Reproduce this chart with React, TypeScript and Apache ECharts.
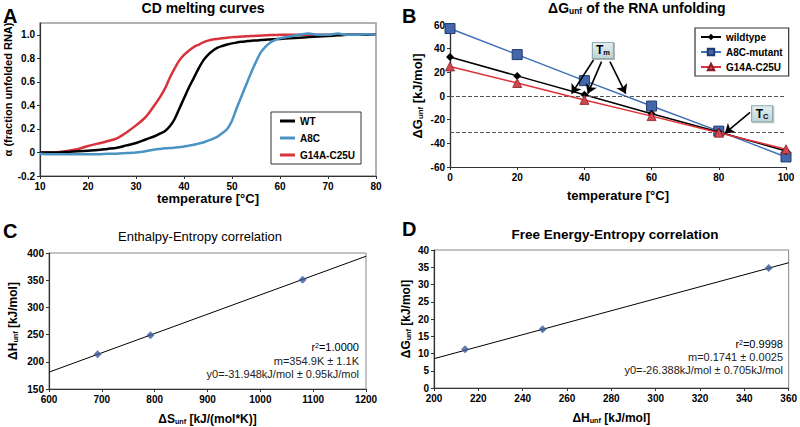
import React, { useEffect, useRef } from 'react';
import * as echarts from 'echarts';

// ---------- Panel A: CD melting curves ----------
const meltT = [10, 12, 14, 16, 18, 20, 22, 24, 26, 28, 30, 32, 34, 35, 36, 37, 38, 39, 40, 41, 42, 43, 44, 45, 46, 47, 48, 49, 50, 51, 52, 53, 54, 55, 56, 57, 58, 59, 60, 62, 64, 66, 68, 70, 72, 74, 76, 78, 80];
const meltWT = [0, 0, 0, 0.005, 0.01, 0.015, 0.02, 0.03, 0.04, 0.06, 0.08, 0.11, 0.14, 0.16, 0.18, 0.22, 0.28, 0.37, 0.46, 0.55, 0.63, 0.71, 0.78, 0.83, 0.865, 0.89, 0.905, 0.917, 0.927, 0.934, 0.94, 0.945, 0.95, 0.952, 0.955, 0.958, 0.96, 0.963, 0.965, 0.97, 0.975, 0.98, 0.985, 0.99, 0.995, 1.0, 1.0, 1.0, 1.0];
const meltA8C = [-0.01, -0.015, -0.015, -0.015, -0.015, -0.015, -0.015, -0.012, -0.01, -0.005, 0, 0.01, 0.025, 0.03, 0.035, 0.038, 0.04, 0.045, 0.05, 0.058, 0.065, 0.075, 0.085, 0.1, 0.115, 0.135, 0.165, 0.2, 0.27, 0.38, 0.48, 0.58, 0.68, 0.77, 0.85, 0.9, 0.935, 0.955, 0.97, 0.985, 1.0, 1.01, 1.0, 1.0, 1.01, 1.0, 1.0, 1.005, 1.0];
const meltG14A = [0, 0, 0.005, 0.015, 0.03, 0.055, 0.075, 0.095, 0.12, 0.17, 0.23, 0.3, 0.41, 0.47, 0.54, 0.63, 0.71, 0.78, 0.83, 0.865, 0.895, 0.915, 0.935, 0.95, 0.96, 0.965, 0.97, 0.975, 0.98, 0.982, 0.985, 0.987, 0.99, 0.991, 0.993, 0.995, 0.997, 0.998, 1.0, 1.0, 1.0, 1.0, 1.0, 1.0, 1.0, 1.0, 1.0, 1.0, 1.0];

// ---------- Panel B: dG of unfolding ----------
const bTemps = [0, 20, 40, 60, 80, 100];
const bWild = [33, 17, 1, -15, -30.5, -46.5];
const bA8C = [57, 35, 13, -8.5, -29.7, -51.5];
const bG14A = [25, 11, -3.3, -17, -31, -45];
const bRefLines = [0, -31];
const tmTips = [36.2, 41, 52.3];
const tmStarts = [[42.7, 30.4], [45.1, 29], [47.6, 29]];
const tcArrow = [[89.3, -13.8], [81.8, -31.5]];
const tmBox = [45.5, 38.5];
const tcBox = [92.9, -15];

// ---------- Panel C: enthalpy-entropy ----------
const cS = [692, 792, 1080];
const cH = [214, 249, 351];
const cFitS = [600, 1200];
const cFitH = [181, 394];

// ---------- Panel D: free energy-entropy ----------
const dH = [214, 249, 351];
const dG = [11.2, 17, 34.8];
const dFitH = [200, 360];
const dFitG = [8.5, 36.3];

const F = "'Liberation Sans', Arial, sans-serif";

const zip = (a: number[], b: number[]) => a.map((v, i) => [v, b[i]]);

const axisBase = (extra: any) => ({
  type: 'value',
  splitLine: { show: false },
  axisLine: { show: true, onZero: false, lineStyle: { color: '#333', width: 1.2 } },
  axisTick: { show: true, length: 3, lineStyle: { color: '#333' } },
  axisLabel: { color: '#000', fontFamily: F, fontWeight: 'bold', fontSize: 10, margin: 5, formatter: (v: number) => String(v) },
  nameLocation: 'middle',
  nameTextStyle: { color: '#000', fontFamily: F, fontWeight: 'bold', fontSize: 13 },
  ...extra,
});

const subRich = (size: number) => ({
  b: { fontFamily: F, fontWeight: 'bold', fontSize: size, color: '#000' },
  s: { fontFamily: F, fontWeight: 'bold', fontSize: size * 0.6, color: '#000', verticalAlign: 'bottom', padding: [size * 0.35, 0, 0, 0] },
});

const AF = 11;
const annRich = {
  n: { fontFamily: F, fontSize: AF, color: '#222' },
  p: { fontFamily: F, fontSize: 7, color: '#222', verticalAlign: 'top' },
};

export default function App() {
  const ref = useRef<HTMLDivElement>(null);
  useEffect(() => {
    document.body.style.margin = '0';
    const chart = echarts.init(ref.current!, null, { renderer: 'svg' });
    const boxGrad = new echarts.graphic.LinearGradient(0, 0, 0, 1, [
      { offset: 0, color: '#e4f0f2' },
      { offset: 1, color: '#bcd4d8' },
    ]);
    const option: any = {
      animation: false,
      backgroundColor: '#fff',
      grid: [
        { left: 40, top: 23, width: 336, height: 153, show: true, borderColor: '#999', borderWidth: 1.5 },
        { left: 450, top: 25, width: 336, height: 142 },
        { left: 49, top: 253, width: 317, height: 136, show: true, borderColor: '#888', borderWidth: 1 },
        { left: 434, top: 250, width: 356, height: 138, show: true, borderColor: '#888', borderWidth: 1 },
      ],
      xAxis: [
        axisBase({ gridIndex: 0, min: 10, max: 80, interval: 10, name: 'temperature [°C]', nameGap: 12 }),
        axisBase({ gridIndex: 1, min: 0, max: 100, interval: 20, name: 'temperature [°C]', nameGap: 22 }),
        axisBase({
          gridIndex: 2, min: 600, max: 1200, interval: 100, nameGap: 24,
          name: '{b|ΔS}{s|unf}{b| [kJ/(mol*K)]}',
          nameTextStyle: { rich: subRich(12) },
        }),
        axisBase({
          gridIndex: 3, min: 200, max: 360, interval: 20, nameGap: 24,
          name: '{b|ΔH}{s|unf}{b| [kJ/mol]}',
          nameTextStyle: { rich: subRich(12) },
        }),
      ],
      yAxis: [
        axisBase({
          gridIndex: 0, min: -0.2, max: 1.1, interval: 0.2, name: 'α (fraction unfolded RNA)', nameGap: 24,
          nameTextStyle: { color: '#000', fontFamily: F, fontWeight: 'bold', fontSize: 11, padding: [0, 0, 0, 20] },
          axisLabel: {
            color: '#000', fontFamily: F, fontWeight: 'bold', fontSize: 10, margin: 5, showMaxLabel: false,
            formatter: (v: number) => (Math.abs(v) < 1e-9 ? '0' : v.toFixed(1)),
          },
        }),
        axisBase({
          gridIndex: 1, min: -60, max: 60, interval: 20, nameGap: 26,
          name: '{b|ΔG}{s|unf}{b| [kJ/mol]}',
          nameTextStyle: { rich: subRich(13) },
        }),
        axisBase({
          gridIndex: 2, min: 150, max: 400, interval: 50, nameGap: 30,
          name: '{b|ΔH}{s|unf}{b| [kJ/mol]}',
          nameTextStyle: { rich: subRich(12) },
        }),
        axisBase({
          gridIndex: 3, min: 0, max: 40, interval: 5, nameGap: 22,
          name: '{b|ΔG}{s|unf}{b| [kJ/mol]}',
          nameTextStyle: { rich: subRich(12) },
        }),
        {
          type: 'value', gridIndex: 1, position: 'right', min: -60, max: 60,
          axisLine: { show: true, lineStyle: { color: '#333', width: 1.2 } },
          axisTick: { show: false }, axisLabel: { show: false }, splitLine: { show: false },
        },
      ],
      legend: [
        {
          data: ['WT', 'A8C', 'G14A-C25U'],
          left: 271, top: 112, orient: 'vertical', icon: 'rect',
          borderColor: '#333', borderWidth: 1, padding: [3, 6, 3, 9], itemGap: 5,
          itemWidth: 15, itemHeight: 3,
          textStyle: { fontFamily: F, fontWeight: 'bold', fontSize: 10, color: '#000', lineHeight: 12 },
        },
        {
          data: ['wildtype', 'A8C-mutant', 'G14A-C25U (B)'],
          left: 695, top: 28, orient: 'vertical',
          borderColor: '#333', borderWidth: 1.2, padding: [4, 6, 4, 5], itemGap: 5,
          itemWidth: 20, itemHeight: 8,
          formatter: (n: string) => n.replace(' (B)', ''),
          textStyle: { fontFamily: F, fontWeight: 'bold', fontSize: 10, color: '#000' },
        },
      ],
      series: [
        { name: 'WT', type: 'line', xAxisIndex: 0, yAxisIndex: 0, data: zip(meltT, meltWT), smooth: 0.3, symbol: 'none', lineStyle: { color: '#000', width: 2.5 }, itemStyle: { color: '#000' }, z: 4 },
        { name: 'A8C', type: 'line', xAxisIndex: 0, yAxisIndex: 0, data: zip(meltT, meltA8C), smooth: 0.3, symbol: 'none', lineStyle: { color: '#4a94c4', width: 2.5 }, itemStyle: { color: '#4a94c4' }, z: 5 },
        { name: 'G14A-C25U', type: 'line', xAxisIndex: 0, yAxisIndex: 0, data: zip(meltT, meltG14A), smooth: 0.3, symbol: 'none', lineStyle: { color: '#d8333c', width: 2.5 }, itemStyle: { color: '#d8333c' }, z: 3 },

        {
          name: 'wildtype', type: 'line', xAxisIndex: 1, yAxisIndex: 1, data: zip(bTemps, bWild),
          symbol: 'diamond', symbolSize: 8, lineStyle: { color: '#000', width: 1.5 }, itemStyle: { color: '#000' }, z: 4,
          markLine: {
            silent: true, symbol: 'none', label: { show: false },
            lineStyle: { color: '#555', type: [4, 2], width: 1 },
            data: bRefLines.map((v) => ({ yAxis: v })),
          },
        },
        {
          name: 'A8C-mutant', type: 'line', xAxisIndex: 1, yAxisIndex: 1, data: zip(bTemps, bA8C),
          symbol: 'rect', symbolSize: 10, lineStyle: { color: '#3f6fb5', width: 1.5 },
          itemStyle: { color: '#4466aa', borderColor: '#1f3a70', borderWidth: 1 }, z: 3,
          markLine: {
            silent: true, symbol: ['none', 'arrow'], symbolSize: 9, label: { show: false },
            lineStyle: { color: '#000', type: 'solid', width: 1.6 },
            data: [
              ...tmTips.map((t, i) => [{ coord: tmStarts[i] }, { coord: [t, 2] }]),
              [{ coord: tcArrow[0] }, { coord: tcArrow[1] }],
            ],
          },
          markPoint: {
            silent: true,
            symbol: 'rect',
            itemStyle: { color: boxGrad, borderColor: '#8fa9ad', borderWidth: 1, shadowColor: 'rgba(0,0,0,0.3)', shadowOffsetX: 1, shadowOffsetY: 1, shadowBlur: 1 },
            label: {
              show: true, position: 'inside',
              rich: {
                t: { fontFamily: F, fontWeight: 'bold', fontSize: 12, color: '#000' },
                s: { fontFamily: F, fontWeight: 'bold', fontSize: 7.5, color: '#000', verticalAlign: 'bottom', padding: [5, 0, 0, 0] },
              },
            },
            data: [
              { coord: tmBox, symbolSize: [21, 16], label: { formatter: '{t|T}{s|m}' } },
              { coord: tcBox, symbolSize: [21, 16], label: { formatter: '{t|T}{s|C}' } },
            ],
          },
        },
        {
          name: 'G14A-C25U (B)', type: 'line', xAxisIndex: 1, yAxisIndex: 1, data: zip(bTemps, bG14A),
          symbol: 'triangle', symbolSize: 9, lineStyle: { color: '#e0303a', width: 1.5 },
          itemStyle: { color: '#d24850', borderColor: '#8a1c24', borderWidth: 0.8 }, z: 5,
        },

        { type: 'line', xAxisIndex: 2, yAxisIndex: 2, data: zip(cFitS, cFitH), symbol: 'none', lineStyle: { color: '#000', width: 1 }, z: 2 },
        { type: 'scatter', xAxisIndex: 2, yAxisIndex: 2, data: zip(cS, cH), symbol: 'diamond', symbolSize: 8, itemStyle: { color: '#3a5a9c' }, z: 3 },

        { type: 'line', xAxisIndex: 3, yAxisIndex: 3, data: zip(dFitH, dFitG), symbol: 'none', lineStyle: { color: '#000', width: 1 }, z: 2 },
        { type: 'scatter', xAxisIndex: 3, yAxisIndex: 3, data: zip(dH, dG), symbol: 'diamond', symbolSize: 8, itemStyle: { color: '#3a5a9c' }, z: 3 },
      ],
      graphic: [
        // panel letters
        { type: 'text', x: 3, y: 16, style: { text: 'A', font: `bold 20px ${F}`, fill: '#000', textVerticalAlign: 'middle' } },
        { type: 'text', x: 402, y: 16, style: { text: 'B', font: `bold 20px ${F}`, fill: '#000', textVerticalAlign: 'middle' } },
        { type: 'text', x: 3, y: 231, style: { text: 'C', font: `bold 20px ${F}`, fill: '#000', textVerticalAlign: 'middle' } },
        { type: 'text', x: 402, y: 229, style: { text: 'D', font: `bold 20px ${F}`, fill: '#000', textVerticalAlign: 'middle' } },
        // titles
        { type: 'text', x: 203, y: 8, style: { text: 'CD melting curves', font: `bold 14px ${F}`, fill: '#000', textAlign: 'center', textVerticalAlign: 'middle' } },
        {
          type: 'text', x: 637, y: 8,
          style: {
            text: '{b|ΔG}{s|unf}{b| of the RNA unfolding}', textAlign: 'center', textVerticalAlign: 'middle',
            rich: subRich(14),
          },
        },
        { type: 'text', x: 200, y: 236, style: { text: 'Enthalpy-Entropy correlation', font: `13px ${F}`, fill: '#000', textAlign: 'center', textVerticalAlign: 'middle' } },
        { type: 'text', x: 615, y: 234, style: { text: 'Free Energy-Entropy correlation', font: `bold 13.5px ${F}`, fill: '#000', textAlign: 'center', textVerticalAlign: 'middle' } },
        // fit annotations C
        { type: 'text', x: 359, y: 347, style: { text: '{n|r}{p|2}{n|=1.0000}', textAlign: 'right', textVerticalAlign: 'middle', rich: annRich } },
        { type: 'text', x: 359, y: 361, style: { text: 'm=354.9K ± 1.1K', font: `${AF}px ${F}`, fill: '#222', textAlign: 'right', textVerticalAlign: 'middle' } },
        { type: 'text', x: 359, y: 374, style: { text: 'y0=-31.948kJ/mol ± 0.95kJ/mol', font: `${AF}px ${F}`, fill: '#222', textAlign: 'right', textVerticalAlign: 'middle' } },
        // fit annotations D
        { type: 'text', x: 783, y: 344, style: { text: '{n|r}{p|2}{n|=0.9998}', textAlign: 'right', textVerticalAlign: 'middle', rich: annRich } },
        { type: 'text', x: 783, y: 357, style: { text: 'm=0.1741 ± 0.0025', font: `${AF}px ${F}`, fill: '#222', textAlign: 'right', textVerticalAlign: 'middle' } },
        { type: 'text', x: 783, y: 370, style: { text: 'y0=-26.388kJ/mol ± 0.705kJ/mol', font: `${AF}px ${F}`, fill: '#222', textAlign: 'right', textVerticalAlign: 'middle' } },
      ],
    };
    chart.setOption(option);
    return () => chart.dispose();
  }, []);
  return <div ref={ref} style={{ position: 'absolute', left: 0, top: 0, width: 800, height: 427 }} />;
}
